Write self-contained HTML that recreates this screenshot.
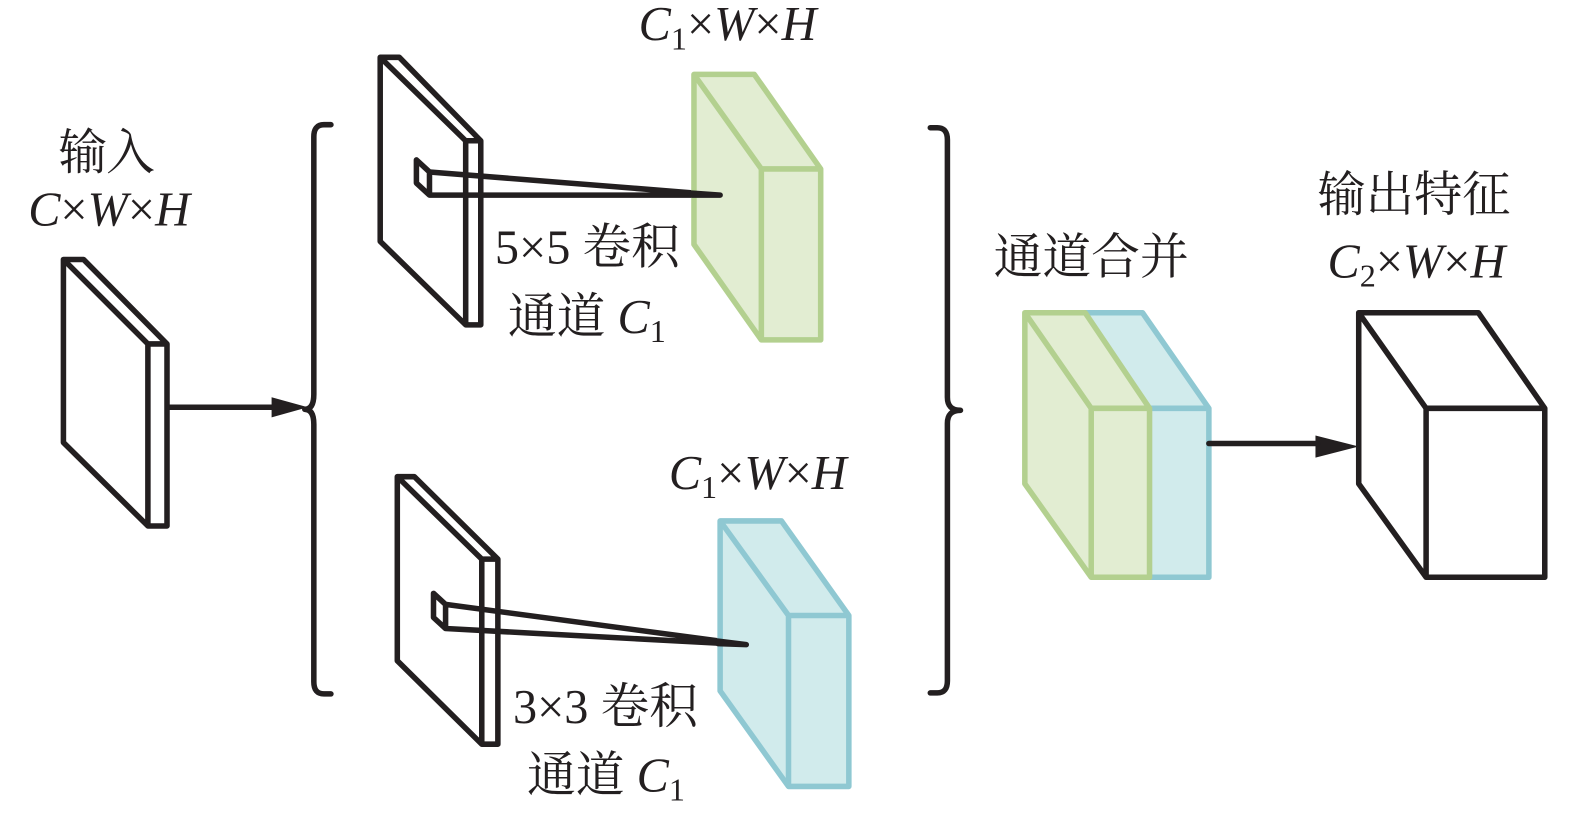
<!DOCTYPE html>
<html><head><meta charset="utf-8"><style>
html,body{margin:0;padding:0;background:#fff}
svg{display:block}
text{font-family:"Liberation Serif","Noto Serif CJK SC",serif;font-size:48px;fill:#231f20}
.i{font-style:italic}
.s{font-size:32px}
.c{font-size:48.5px}
</style></head><body>
<svg width="1575" height="816" viewBox="0 0 1566 811.4" xmlns="http://www.w3.org/2000/svg">
<g fill="none" stroke="#231f20" stroke-width="5.5" stroke-linejoin="round" stroke-linecap="round">
<!-- input slab -->
<path d="M63 258H83L166 342V523H147L63 440ZM63 258L147 342H166M147 342V523"/>
<path d="M168 405H272"/>
<!-- left brace -->
<path d="M329 124H322Q312 124 312 136V392Q312 407 303 407Q312 407 312 422V678Q312 690 322 690H329"/>
<!-- top slab -->
<path d="M378 57H397L478 140V323H463L378 240ZM378 57L463 140H478M463 140V323"/>
<path d="M414 159L427 171V194L414 182ZM427 171L716 194H427"/>
<!-- bottom slab -->
<path d="M395 474H412L495 556V740H479L395 657ZM395 474L479 556H495M479 556V740"/>
<path d="M431 590L443 601V625L431 614ZM443 601L742 641L443 625"/>
<!-- right brace -->
<path d="M925 127H932Q942 127 942 139V395Q942 408 955 408Q942 408 942 421V677Q942 689 932 689H925"/>
<!-- output cube -->
<path d="M1351 311H1470L1536 406V574H1418L1351 481ZM1351 311L1418 406H1536M1418 406V574"/>
</g>
<polygon points="270,395 306,405 270,415" fill="#231f20"/>
<polygon points="1308,433 1351,444 1308,455" fill="#231f20"/>
<g stroke-width="5.5" stroke-linejoin="round">
<!-- green top -->
<path d="M690 74H750L816 168V338H757L690 243Z" fill="#e2edd2" stroke="#b3d08f"/>
<path d="M690 74L757 168H816M757 168V338" fill="none" stroke="#b3d08f"/>
<!-- blue bottom -->
<path d="M716 518H777L844 612V782H784L716 687Z" fill="#d1ebec" stroke="#8fc8d2"/>
<path d="M716 518L784 612H844M784 612V782" fill="none" stroke="#8fc8d2"/>
<!-- merged -->
<path d="M1079 311H1136L1202 406V574H1143Z" fill="#d1ebec" stroke="#8fc8d2"/>
<path d="M1143 406H1202" fill="none" stroke="#8fc8d2"/>
<path d="M1019 311H1079L1143 406V574H1085L1019 481Z" fill="#e2edd2" stroke="#b3d08f"/>
<path d="M1019 311L1085 406H1143M1085 406V574" fill="none" stroke="#b3d08f"/>
</g>
<!-- connector ends over fills -->
<g fill="none" stroke="#231f20" stroke-width="5.5" stroke-linecap="round" stroke-linejoin="round">
<path d="M688 192L716 194H688"/>
<path d="M714 637.5L742 641L714 640"/>
<path d="M1202 441H1310"/>
</g>
<!-- labels -->
<text x="58" y="168" class="c" textLength="96">输入</text>
<text x="28" y="224" class="i">C<tspan font-style="normal">×</tspan>W<tspan font-style="normal">×</tspan>H</text>
<text x="635" y="40" class="i">C<tspan class="s" dy="9" font-style="normal">1</tspan><tspan dy="-9" font-style="normal">×</tspan>W<tspan font-style="normal">×</tspan>H</text>
<text x="665" y="486" class="i">C<tspan class="s" dy="9" font-style="normal">1</tspan><tspan dy="-9" font-style="normal">×</tspan>W<tspan font-style="normal">×</tspan>H</text>
<text x="492" y="262">5×5 <tspan class="c">卷积</tspan></text>
<text x="505" y="331"><tspan class="c">通道</tspan> <tspan class="i">C</tspan><tspan class="s" dy="9">1</tspan></text>
<text x="510" y="719">3×3 <tspan class="c">卷积</tspan></text>
<text x="524" y="787"><tspan class="c">通道</tspan> <tspan class="i">C</tspan><tspan class="s" dy="9">1</tspan></text>
<text x="988" y="272" class="c">通道合并</text>
<text x="1310" y="210" style="font-size:48px">输出特征</text>
<text x="1320" y="276" class="i">C<tspan class="s" dy="9" font-style="normal">2</tspan><tspan dy="-9" font-style="normal">×</tspan>W<tspan font-style="normal">×</tspan>H</text>
</svg>
</body></html>
